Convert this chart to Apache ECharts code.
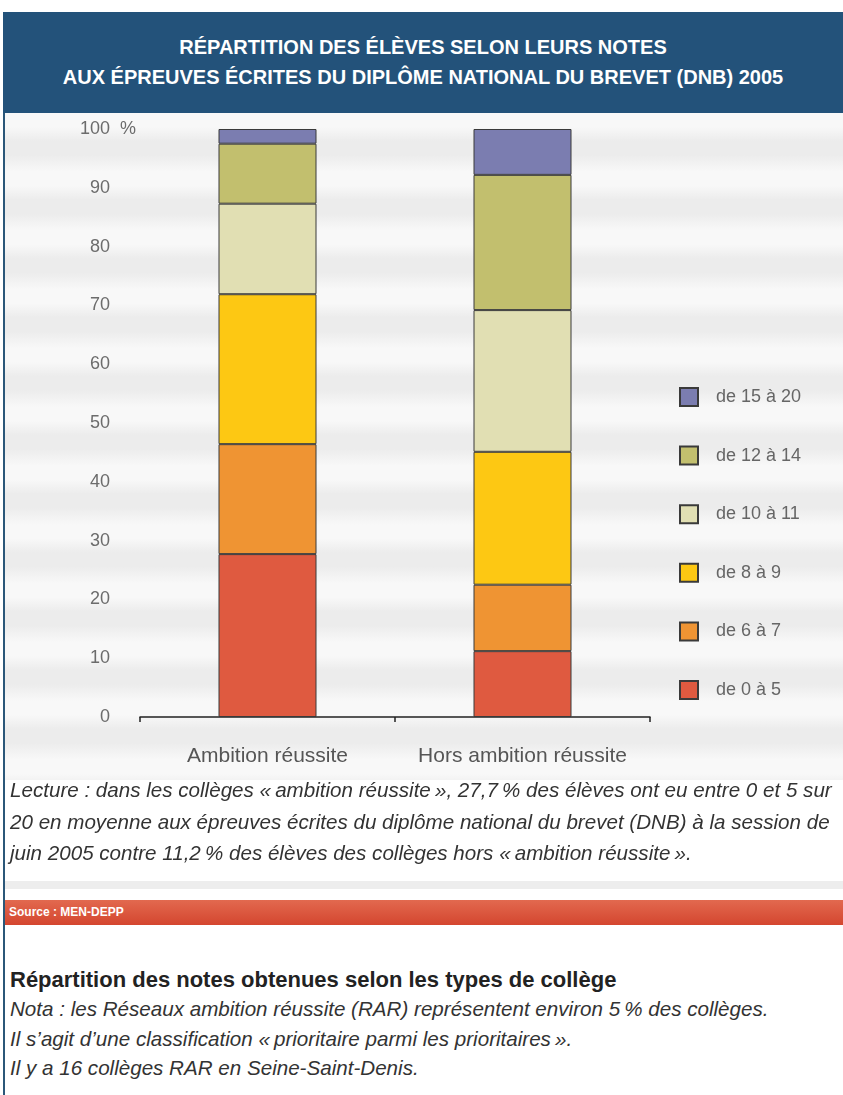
<!DOCTYPE html>
<html><head><meta charset="utf-8">
<script src="https://cdn.jsdelivr.net/npm/echarts@6/dist/echarts.min.js"></script>
<style>
html,body{margin:0;padding:0;width:843px;height:1095px;background:#fff;overflow:hidden;}
#frame{position:absolute;left:3px;top:12px;width:2px;height:1083px;background:#2b5779;}
#header{position:absolute;left:3px;top:12px;width:840px;height:101px;background:#23527a;color:#fff;font-family:"Liberation Sans",sans-serif;font-weight:bold;font-size:20px;text-align:center;line-height:30px;box-sizing:border-box;padding-top:20px;white-space:nowrap;}
#chart{position:absolute;left:5px;top:113px;width:838px;height:667px;
 background:repeating-linear-gradient(to bottom,#f8f8f8 0px,#f8f8f8 14px,#ececec 28px,#ececec 42px,#f8f8f8 58.8px);}
.txt{position:absolute;left:10px;font-family:"Liberation Sans",sans-serif;color:#333;white-space:nowrap;}
#lecture{top:774px;font-style:italic;font-size:20.6px;line-height:31.5px;}
#noise{position:absolute;left:5px;top:881px;width:838px;height:8px;background:#ededed;}
#src{position:absolute;left:5px;top:900px;width:838px;height:25px;background:linear-gradient(#e2694f,#d4462f);color:#fff;font-family:"Liberation Sans",sans-serif;font-weight:bold;font-size:12px;line-height:25px;padding-left:4px;box-sizing:border-box;}
#bottom{top:965px;font-size:20.6px;line-height:29.3px;}
#bottom b{font-size:22px;color:#222;}
#bottom i{font-style:italic;}
</style></head>
<body>
<div id="frame"></div>
<div id="header">RÉPARTITION DES ÉLÈVES SELON LEURS NOTES<br>AUX ÉPREUVES ÉCRITES DU DIPLÔME NATIONAL DU BREVET (DNB) 2005</div>
<div id="chart"></div>
<div class="txt" id="lecture">Lecture : dans les collèges «&#8239;ambition réussite&#8239;», 27,7&#8239;% des élèves ont eu entre 0 et 5 sur<br>20 en moyenne aux épreuves écrites du diplôme national du brevet (DNB) à la session de<br>juin 2005 contre 11,2&#8239;% des élèves des collèges hors «&#8239;ambition réussite&#8239;».</div>
<div id="noise"></div>
<div id="src">Source : MEN-DEPP</div>
<div class="txt" id="bottom"><b>Répartition des notes obtenues selon les types de collège</b><br><i>Nota : les Réseaux ambition réussite (RAR) représentent environ 5&#8239;% des collèges.</i><br><i>Il s’agit d’une classification «&#8239;prioritaire parmi les prioritaires&#8239;».</i><br><i>Il y a 16 collèges RAR en Seine-Saint-Denis.</i></div>
<script>
var categories = ['Ambition réussite', 'Hors ambition réussite'];
var seriesNames = ['de 0 à 5', 'de 6 à 7', 'de 8 à 9', 'de 10 à 11', 'de 12 à 14', 'de 15 à 20'];
var note0a5   = [27.7, 11.2];
var note6a7   = [18.7, 11.3];
var note8a9   = [25.5, 22.6];
var note10a11 = [15.4, 24.1];
var note12a14 = [10.2, 23.0];
var note15a20 = [2.5, 7.8];
var yTicks = [0, 10, 20, 30, 40, 50, 60, 70, 80, 90, 100];
var colors = ['#df5a40', '#ef9433', '#fdc813', '#e1dfb3', '#c2bf6e', '#7b7db0'];

var values = [note0a5, note6a7, note8a9, note10a11, note12a14, note15a20];
var chart = echarts.init(document.getElementById('chart'), null, {renderer: 'canvas'});
var series = seriesNames.map(function (n, i) {
  return {
    name: n, type: 'bar', stack: 'total', barWidth: 98,
    data: values[i],
    itemStyle: {color: colors[i], borderColor: '#3a3a3a', borderWidth: 1},
    emphasis: {disabled: true}
  };
});
chart.setOption({
  animation: false,
  backgroundColor: 'transparent',
  grid: {left: 135, top: 16, width: 510, height: 588, containLabel: false},
  legend: {
    orient: 'vertical', left: 674, top: 274, padding: 0,
    data: seriesNames.slice().reverse(),
    itemWidth: 18, itemHeight: 18, itemGap: 38.6,
    icon: 'rect',
    selectedMode: false,
    textStyle: {fontFamily: 'Liberation Sans', fontSize: 18, color: '#666', padding: [0, 0, 0, 13]}
  },
  xAxis: {
    type: 'category', data: categories,
    axisLine: {show: true, lineStyle: {color: '#222', width: 1.5}},
    axisTick: {show: true, length: 5, lineStyle: {color: '#222', width: 1.5}},
    axisLabel: {interval: 0, margin: 29, fontFamily: 'Liberation Sans', fontSize: 21, color: '#555'},
    splitLine: {show: false}
  },
  yAxis: {
    type: 'value', min: 0, max: 100, interval: 10,
    axisLine: {show: false}, axisTick: {show: false}, splitLine: {show: false},
    axisLabel: {
      margin: 60, align: 'left', color: '#6c6c6c',
      fontFamily: 'Liberation Sans', fontSize: 18,
      formatter: function (v) {
        return yTicks.indexOf(v) < 0 ? '' : (v === 100 ? '{n|100}{p|  %}' : '{n|' + v + '}');
      },
      rich: {
        n: {width: 30, align: 'right', fontFamily: 'Liberation Sans', fontSize: 18, color: '#6c6c6c'},
        p: {fontFamily: 'Liberation Sans', fontSize: 18, color: '#6c6c6c'}
      }
    }
  },
  series: series
});
</script>
</body></html>
